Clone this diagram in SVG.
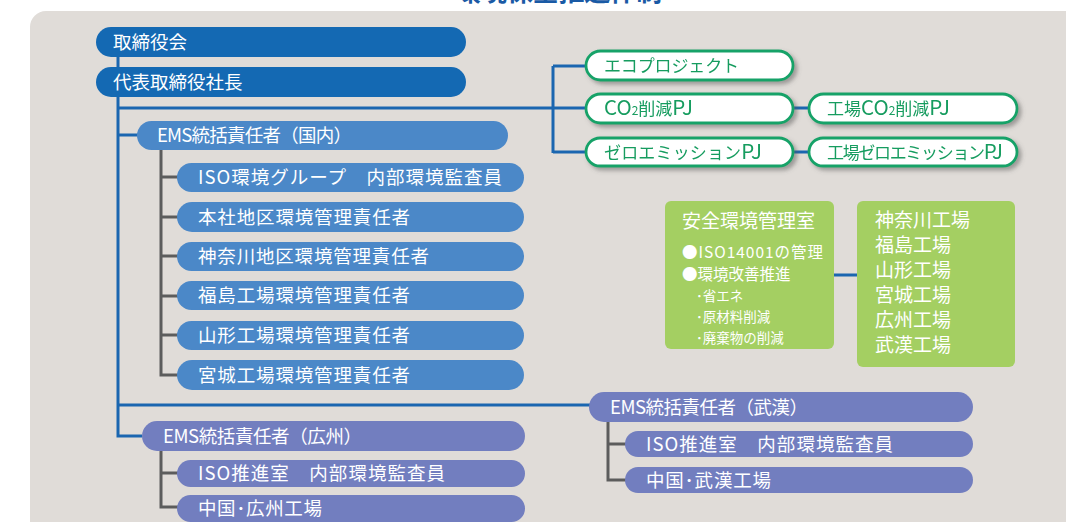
<svg xmlns="http://www.w3.org/2000/svg" width="1066" height="522" viewBox="0 0 1066 522">
<defs>
<style>
text{font-family:"Noto Sans CJK JP","Noto Sans",sans-serif;}
.dk{fill:#1469b3;}
.md{fill:#4b88c8;}
.pu{fill:#727ebf;}
.wt{fill:#ffffff;font-size:18.5px;}
.pj rect{fill:#ffffff;stroke:#17a268;stroke-width:2.8;}
.pj text{fill:#169c5f;font-size:17px;}
.la{font-size:20.5px;}
.gb{fill:#a4cf62;}
.bl{stroke:#1a66b0;stroke-width:3;fill:none;}
.gr{stroke:#5c5c5c;stroke-width:3;fill:none;}
</style>
<filter id="sh" x="-10%" y="-30%" width="125%" height="180%">
<feDropShadow dx="3" dy="3" stdDeviation="2" flood-color="#555" flood-opacity="0.5"/>
</filter>
</defs>
<rect x="0" y="0" width="1066" height="522" fill="#ffffff"/>
<text x="455" y="1" font-size="26" font-weight="bold" fill="#1a5aa5" textLength="207">環境保全推進体制</text>
<rect x="30" y="11" width="1070" height="540" rx="16" fill="#e0dcd8"/>

<g id="connectors">
<path class="bl" d="M118 57V67M118 97V436H142M118 108H553M553 66V153M553 66H586M553 108H586M553 152H586M793 108H809M793 152H809M118 135H138M118 405H590M834 275H858"/>
<path class="gr" d="M161 150V375H178M161 177H178M161 217H178M161 256H178M161 296H178M161 335H178M161 451V507H178M161 473H178M608 422V480H626M608 444H626"/>
</g>

<g id="n-board"><rect class="dk" x="96" y="27" width="370" height="30" rx="15"/><text class="wt" x="113" y="48.5">取締役会</text></g>
<g id="n-president"><rect class="dk" x="96" y="67" width="370" height="30" rx="15"/><text class="wt" x="113" y="88.5">代表取締役社長</text></g>

<g id="n-eco" class="pj" filter="url(#sh)"><rect x="586" y="51" width="207" height="29" rx="14.5"/><text x="604" y="72" textLength="135">エコプロジェクト</text></g>
<g id="n-co2" class="pj" filter="url(#sh)"><rect x="586" y="94" width="207" height="29" rx="14.5"/><text x="604" y="115"><tspan class="la">CO</tspan><tspan font-size="12">2</tspan>削減<tspan class="la">PJ</tspan></text></g>
<g id="n-zero" class="pj" filter="url(#sh)"><rect x="586" y="138" width="207" height="28" rx="14"/><text x="604" y="158.5" textLength="158">ゼロエミッション<tspan class="la">PJ</tspan></text></g>
<g id="n-fco2" class="pj" filter="url(#sh)"><rect x="809" y="94" width="208" height="29" rx="14.5"/><text x="827" y="115">工場<tspan class="la">CO</tspan><tspan font-size="12">2</tspan>削減<tspan class="la">PJ</tspan></text></g>
<g id="n-fzero" class="pj" filter="url(#sh)"><rect x="809" y="138" width="208" height="28" rx="14"/><text x="827" y="158.5" textLength="176">工場ゼロエミッション<tspan class="la">PJ</tspan></text></g>

<g id="n-ems-jp"><rect class="md" x="137" y="121" width="371" height="29" rx="14.5"/><text class="wt" x="157" y="142" textLength="195">EMS統括責任者（国内）</text></g>
<g id="n-iso-grp"><rect class="md" x="177" y="163" width="347" height="29" rx="14.5"/><text class="wt" x="198" y="184" font-size="19" textLength="304">ISO環境グループ　内部環境監査員</text></g>
<g id="n-honsha"><rect class="md" x="177" y="202" width="347" height="30" rx="15"/><text class="wt" x="198" y="224" font-size="19" textLength="212">本社地区環境管理責任者</text></g>
<g id="n-kanagawa"><rect class="md" x="177" y="242" width="347" height="29" rx="14.5"/><text class="wt" x="198" y="263" font-size="19" textLength="231">神奈川地区環境管理責任者</text></g>
<g id="n-fukushima"><rect class="md" x="177" y="281" width="347" height="29" rx="14.5"/><text class="wt" x="198" y="302" font-size="19" textLength="212">福島工場環境管理責任者</text></g>
<g id="n-yamagata"><rect class="md" x="177" y="321" width="347" height="29" rx="14.5"/><text class="wt" x="198" y="342" font-size="19" textLength="212">山形工場環境管理責任者</text></g>
<g id="n-miyagi"><rect class="md" x="177" y="360" width="347" height="30" rx="15"/><text class="wt" x="198" y="382" font-size="19" textLength="212">宮城工場環境管理責任者</text></g>

<g id="n-ems-gz"><rect class="pu" x="142" y="421" width="383" height="30" rx="15"/><text class="wt" x="163" y="442.5" textLength="199">EMS統括責任者（広州）</text></g>
<g id="n-iso-gz"><rect class="pu" x="177" y="460" width="348" height="27" rx="13.5"/><text class="wt" x="198" y="480" font-size="19" textLength="247">ISO推進室　内部環境監査員</text></g>
<g id="n-gz-plant"><rect class="pu" x="177" y="495" width="348" height="27" rx="13.5"/><text class="wt" x="198" y="515" font-size="19" textLength="124">中国･広州工場</text></g>

<g id="n-ems-wh"><rect class="pu" x="589" y="392" width="384" height="30" rx="15"/><text class="wt" x="610" y="413.5" textLength="198">EMS統括責任者（武漢）</text></g>
<g id="n-iso-wh"><rect class="pu" x="625" y="431" width="348" height="26" rx="13"/><text class="wt" x="646" y="450.5" font-size="19" textLength="247">ISO推進室　内部環境監査員</text></g>
<g id="n-wh-plant"><rect class="pu" x="625" y="467" width="348" height="26" rx="13"/><text class="wt" x="646" y="486.5" font-size="19" textLength="125">中国･武漢工場</text></g>

<g id="n-safety"><rect class="gb" x="665" y="201" width="169" height="148" rx="6"/>
<text fill="#fff" font-size="19" x="682" y="228">安全環境管理室</text>
<text fill="#fff" font-size="15.5" x="682" y="258" textLength="141">●ISO14001の管理</text>
<text fill="#fff" font-size="15.5" x="682" y="280">●環境改善推進</text>
<text fill="#fff" font-size="13.5" x="696" y="301">･省エネ</text>
<text fill="#fff" font-size="13.5" x="696" y="322">･原材料削減</text>
<text fill="#fff" font-size="13.5" x="696" y="343">･廃棄物の削減</text>
</g>
<g id="n-plants"><rect class="gb" x="857" y="201" width="158" height="166" rx="6"/>
<text fill="#fff" font-size="19" x="875" y="227">神奈川工場</text>
<text fill="#fff" font-size="19" x="875" y="252">福島工場</text>
<text fill="#fff" font-size="19" x="875" y="277">山形工場</text>
<text fill="#fff" font-size="19" x="875" y="302">宮城工場</text>
<text fill="#fff" font-size="19" x="875" y="327">広州工場</text>
<text fill="#fff" font-size="19" x="875" y="352">武漢工場</text>
</g>
</svg>
